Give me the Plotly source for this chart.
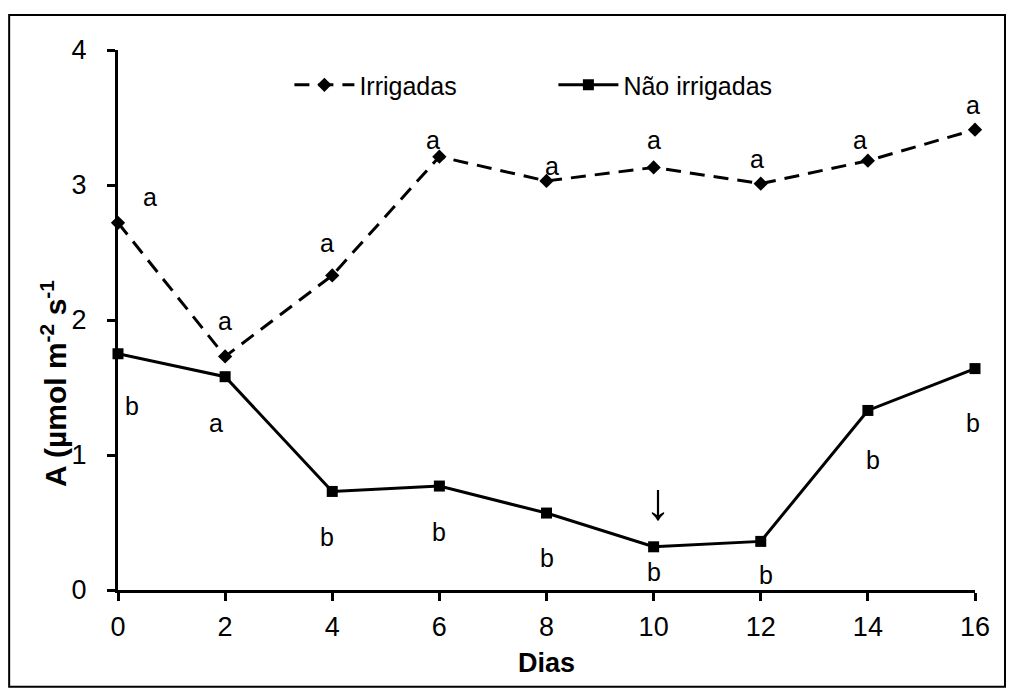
import plotly.graph_objects as go

dias = [0, 2, 4, 6, 8, 10, 12, 14, 16]
irrigadas = [2.72, 1.73, 2.33, 3.21, 3.03, 3.13, 3.01, 3.18, 3.41]
nao_irrigadas = [1.75, 1.58, 0.73, 0.77, 0.57, 0.32, 0.36, 1.33, 1.64]

# significance letters (text, x, y)
letras_irr = ["a", "a", "a", "a", "a", "a", "a", "a", "a"]
letras_irr_x = [0.6, 2.0, 3.9, 5.88, 8.1, 10.0, 11.93, 13.85, 15.96]
letras_irr_y = [2.91, 1.99, 2.57, 3.33, 3.14, 3.33, 3.19, 3.33, 3.59]
letras_nao = ["b", "a", "b", "b", "b", "b", "b", "b", "b"]
letras_nao_x = [0.26, 1.83, 3.9, 6.0, 8.0, 10.0, 12.1, 14.1, 15.96]
letras_nao_y = [1.36, 1.24, 0.39, 0.43, 0.24, 0.13, 0.11, 0.96, 1.24]
seta_x, seta_y = 10.08, 0.66

FONT = "Liberation Sans, Arial, sans-serif"

fig = go.Figure()
fig.add_trace(go.Scatter(
    x=dias, y=irrigadas, name="Irrigadas", mode="lines+markers",
    line=dict(color="black", width=3, dash="15px,9px"),
    marker=dict(symbol="diamond", size=11, color="black"),
    cliponaxis=False,
))
fig.add_trace(go.Scatter(
    x=dias, y=nao_irrigadas, name="Não irrigadas", mode="lines+markers",
    line=dict(color="black", width=3),
    marker=dict(symbol="square", size=11, color="black"),
    cliponaxis=False,
))

for t, x, y in zip(letras_irr, letras_irr_x, letras_irr_y):
    fig.add_annotation(x=x, y=y, text=t, showarrow=False,
                       font=dict(family=FONT, size=25, color="black"))
for t, x, y in zip(letras_nao, letras_nao_x, letras_nao_y):
    fig.add_annotation(x=x, y=y, text=t, showarrow=False,
                       font=dict(family=FONT, size=25, color="black"))
fig.add_annotation(x=seta_x, y=seta_y, text="↓", showarrow=False,
                   font=dict(family=FONT, size=52, color="black"))

# y-axis title (placed like the original, below the plot centre)
fig.add_annotation(xref="paper", yref="paper", x=-0.075, y=0.383,
                   xanchor="center", yanchor="middle",
                   text="<b>A (µmol m<sup>-2</sup> s<sup>-1</sup></b>",
                   textangle=-90, showarrow=False,
                   font=dict(family=FONT, size=30, color="black"))

# outer border
fig.add_shape(type="rect", xref="paper", yref="paper",
              x0=-0.127, x1=1.035, y0=-0.179, y1=1.0648,
              line=dict(color="black", width=2), layer="below")

fig.update_layout(
    width=1013, height=688,
    margin=dict(l=118, r=38, t=50, b=98),
    paper_bgcolor="white", plot_bgcolor="white",
    font=dict(family=FONT, size=24, color="black"),
    showlegend=True,
    legend=dict(orientation="h", x=0.2, y=0.935, xanchor="left", yanchor="middle",
                font=dict(family=FONT, size=25), bgcolor="rgba(0,0,0,0)",
                itemwidth=60, entrywidth=189, entrywidthmode="pixels"),
    xaxis=dict(range=[0, 16], tickmode="array", tickvals=dias,
               showline=True, linecolor="black", linewidth=3,
               ticks="outside", ticklen=8, tickwidth=3, tickcolor="black",
               showgrid=False, zeroline=False, ticklabelstandoff=3,
               tickfont=dict(family=FONT, size=27),
               title=dict(text="<b>Dias</b>", font=dict(family=FONT, size=27), standoff=12)),
    yaxis=dict(range=[0, 4], tickvals=[0, 1, 2, 3, 4],
               showline=True, linecolor="black", linewidth=3,
               ticks="outside", ticklen=8, tickwidth=3, tickcolor="black",
               showgrid=False, zeroline=False, ticklabelstandoff=15,
               tickfont=dict(family=FONT, size=27)),
)

fig.write_html("out.html")
